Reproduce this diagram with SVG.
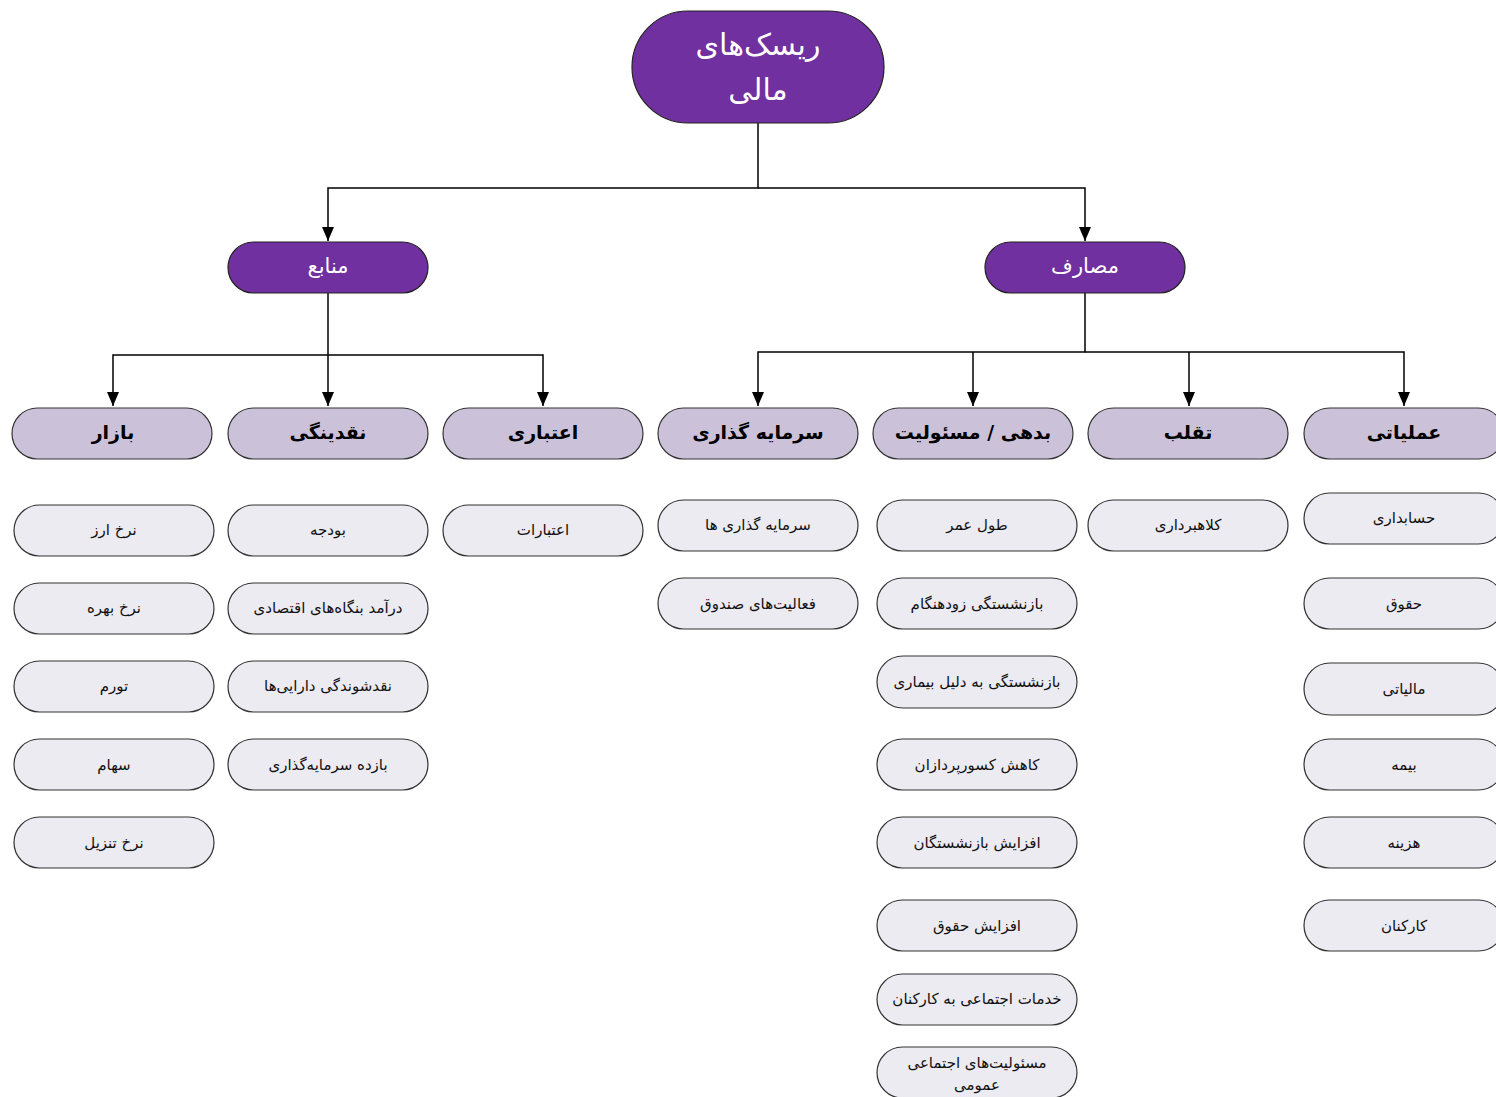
<svg xmlns="http://www.w3.org/2000/svg" width="1496" height="1097" viewBox="0 0 1496 1097">
<style>
text{font-family:"DejaVu Sans","Noto Sans",sans-serif;text-anchor:middle;dominant-baseline:central;direction:rtl}
.root rect,.l2 rect{fill:#7030a0;stroke:#222;stroke-width:1.2}
.root text,.l2 text{fill:#fff}
.root text{font-size:30px}
.l2 text{font-size:21px}
.l3 rect{fill:#cbc2da;stroke:#333;stroke-width:1.2}
.l3 text{font-size:19px;font-weight:bold;fill:#000}
.leaf rect{fill:#ecebf1;stroke:#333;stroke-width:1.2}
.leaf text{font-size:15px;fill:#111}
.c{fill:none;stroke:#000;stroke-width:1.5}
</style>
<defs>
<marker id="ah" viewBox="0 0 14 12" refX="14" refY="6" markerWidth="14" markerHeight="12" markerUnits="userSpaceOnUse" orient="auto">
<path d="M0,0 L14,6 L0,12 Z" fill="#000"/>
</marker>
</defs>
<g id="connectors">
<path class="c" d="M758,123 V188 H328 V241" marker-end="url(#ah)"/>
<path class="c" d="M758,188 H1085 V241" marker-end="url(#ah)"/>
<path class="c" d="M328,293 V406" marker-end="url(#ah)"/>
<path class="c" d="M328,355 H113 V406" marker-end="url(#ah)"/>
<path class="c" d="M328,355 H543 V406" marker-end="url(#ah)"/>
<path class="c" d="M1085,293 V352 H758 V406" marker-end="url(#ah)"/>
<path class="c" d="M973,352 V406" marker-end="url(#ah)"/>
<path class="c" d="M1085,352 H1404 V406" marker-end="url(#ah)"/>
<path class="c" d="M1189,352 V406" marker-end="url(#ah)"/>
</g>
<g id="root" class="root"><rect x="632" y="11" width="252" height="112" rx="56"/><text x="758" y="44">ریسک‌های</text><text x="758" y="89">مالی</text></g>
<g id="manabe" class="l2"><rect x="228" y="242" width="200" height="51" rx="25.5"/><text x="328" y="266">منابع</text></g>
<g id="masaref" class="l2"><rect x="985" y="242" width="200" height="51" rx="25.5"/><text x="1085" y="266">مصارف</text></g>
<g id="bazar" class="l3"><rect x="12" y="408" width="200" height="51" rx="25.5"/><text x="113" y="432">بازار</text></g>
<g id="naghdinegi" class="l3"><rect x="228" y="408" width="200" height="51" rx="25.5"/><text x="328" y="432">نقدینگی</text></g>
<g id="etebari" class="l3"><rect x="443" y="408" width="200" height="51" rx="25.5"/><text x="543" y="432">اعتباری</text></g>
<g id="sarmaye" class="l3"><rect x="658" y="408" width="200" height="51" rx="25.5"/><text x="758" y="432">سرمایه گذاری</text></g>
<g id="bedehi" class="l3"><rect x="873" y="408" width="200" height="51" rx="25.5"/><text x="973" y="432">بدهی / مسئولیت</text></g>
<g id="taghalob" class="l3"><rect x="1088" y="408" width="200" height="51" rx="25.5"/><text x="1188" y="432">تقلب</text></g>
<g id="amaliati" class="l3"><rect x="1304" y="408" width="200" height="51" rx="25.5"/><text x="1404" y="432">عملیاتی</text></g>
<g id="b1" class="leaf"><rect x="14" y="505" width="200" height="51" rx="25.5"/><text x="114" y="530">نرخ ارز</text></g>
<g id="b2" class="leaf"><rect x="14" y="583" width="200" height="51" rx="25.5"/><text x="114" y="608">نرخ بهره</text></g>
<g id="b3" class="leaf"><rect x="14" y="661" width="200" height="51" rx="25.5"/><text x="114" y="686">تورم</text></g>
<g id="b4" class="leaf"><rect x="14" y="739" width="200" height="51" rx="25.5"/><text x="114" y="765">سهام</text></g>
<g id="b5" class="leaf"><rect x="14" y="817" width="200" height="51" rx="25.5"/><text x="114" y="843">نرخ تنزیل</text></g>
<g id="n1" class="leaf"><rect x="228" y="505" width="200" height="51" rx="25.5"/><text x="328" y="530">بودجه</text></g>
<g id="n2" class="leaf"><rect x="228" y="583" width="200" height="51" rx="25.5"/><text x="328" y="608">درآمد بنگاه‌های اقتصادی</text></g>
<g id="n3" class="leaf"><rect x="228" y="661" width="200" height="51" rx="25.5"/><text x="328" y="686">نقدشوندگی دارایی‌ها</text></g>
<g id="n4" class="leaf"><rect x="228" y="739" width="200" height="51" rx="25.5"/><text x="328" y="765">بازده سرمایه‌گذاری</text></g>
<g id="e1" class="leaf"><rect x="443" y="505" width="200" height="51" rx="25.5"/><text x="543" y="530">اعتبارات</text></g>
<g id="s1" class="leaf"><rect x="658" y="500" width="200" height="51" rx="25.5"/><text x="758" y="525">سرمایه گذاری ها</text></g>
<g id="s2" class="leaf"><rect x="658" y="578" width="200" height="51" rx="25.5"/><text x="758" y="604">فعالیت‌های صندوق</text></g>
<g id="d1" class="leaf"><rect x="877" y="500" width="200" height="51" rx="25.5"/><text x="977" y="525">طول عمر</text></g>
<g id="d2" class="leaf"><rect x="877" y="578" width="200" height="51" rx="25.5"/><text x="977" y="604">بازنشستگی زودهنگام</text></g>
<g id="d3" class="leaf"><rect x="877" y="656" width="200" height="52" rx="26"/><text x="977" y="682">بازنشستگی به دلیل بیماری</text></g>
<g id="d4" class="leaf"><rect x="877" y="739" width="200" height="51" rx="25.5"/><text x="977" y="765">کاهش کسورپردازان</text></g>
<g id="d5" class="leaf"><rect x="877" y="817" width="200" height="51" rx="25.5"/><text x="977" y="843">افزایش بازنشستگان</text></g>
<g id="d6" class="leaf"><rect x="877" y="900" width="200" height="51" rx="25.5"/><text x="977" y="926">افزایش حقوق</text></g>
<g id="d7" class="leaf"><rect x="877" y="974" width="200" height="51" rx="25.5"/><text x="977" y="999">خدمات اجتماعی به کارکنان</text></g>
<g id="d8" class="leaf"><rect x="877" y="1047" width="200" height="51" rx="25.5"/><text x="977" y="1063">مسئولیت‌های اجتماعی</text><text x="977" y="1085">عمومی</text></g>
<g id="t1" class="leaf"><rect x="1088" y="500" width="200" height="51" rx="25.5"/><text x="1188" y="525">کلاهبرداری</text></g>
<g id="a1" class="leaf"><rect x="1304" y="493" width="200" height="51" rx="25.5"/><text x="1404" y="518">حسابداری</text></g>
<g id="a2" class="leaf"><rect x="1304" y="578" width="200" height="51" rx="25.5"/><text x="1404" y="604">حقوق</text></g>
<g id="a3" class="leaf"><rect x="1304" y="663" width="200" height="52" rx="26"/><text x="1404" y="689">مالیاتی</text></g>
<g id="a4" class="leaf"><rect x="1304" y="739" width="200" height="51" rx="25.5"/><text x="1404" y="765">بیمه</text></g>
<g id="a5" class="leaf"><rect x="1304" y="817" width="200" height="51" rx="25.5"/><text x="1404" y="843">هزینه</text></g>
<g id="a6" class="leaf"><rect x="1304" y="900" width="200" height="51" rx="25.5"/><text x="1404" y="926">کارکنان</text></g>
</svg>
